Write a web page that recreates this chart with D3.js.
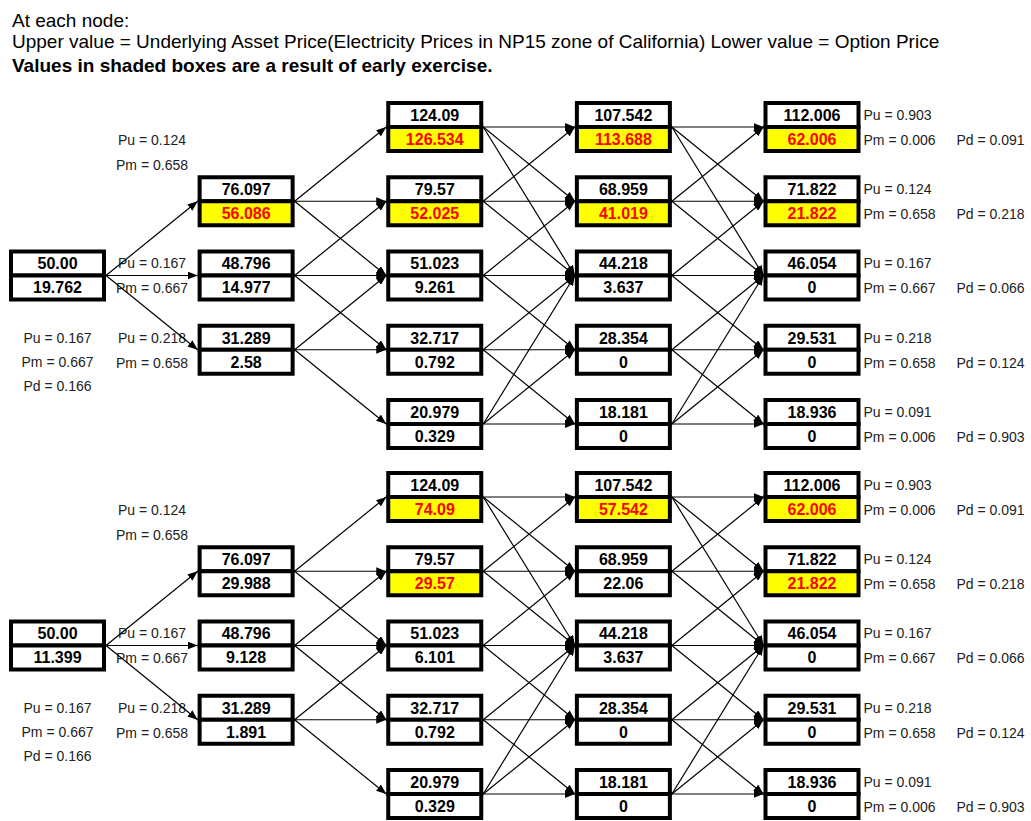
<!DOCTYPE html>
<html>
<head>
<meta charset="utf-8">
<script src="https://cdn.jsdelivr.net/npm/d3@7"></script>
<style>
  body { margin: 0; background: #fff; }
  svg text { font-family: "Liberation Sans", Arial, sans-serif; }
</style>
</head>
<body>
<div id="treeDiv"></div>
<script>
// header text
const headerLines = [
    'At each node:',
    'Upper value = Underlying Asset Price(Electricity Prices in NP15 zone of California) Lower value = Option Price',
    'Values in shaded boxes are a result of early exercise.'
];

// which rows of the lattice exist in each time step
const nodeRows = [[2], [1, 2, 3], [0, 1, 2, 3, 4], [0, 1, 2, 3, 4], [0, 1, 2, 3, 4]];

// underlying prices (same in both trees)
const assetPrices = [
    ['50.00'],
    ['76.097', '48.796', '31.289'],
    ['124.09', '79.57', '51.023', '32.717', '20.979'],
    ['107.542', '68.959', '44.218', '28.354', '18.181'],
    ['112.006', '71.822', '46.054', '29.531', '18.936']
];

// option prices, upper tree
const topOptionPrices = [
    ['19.762'],
    ['56.086', '14.977', '2.58'],
    ['126.534', '52.025', '9.261', '0.792', '0.329'],
    ['113.688', '41.019', '3.637', '0', '0'],
    ['62.006', '21.822', '0', '0', '0']
];
const topShaded = [
    [false],
    [true, false, false],
    [true, true, false, false, false],
    [true, true, false, false, false],
    [true, true, false, false, false]
];

// option prices, lower tree
const bottomOptionPrices = [
    ['11.399'],
    ['29.988', '9.128', '1.891'],
    ['74.09', '29.57', '6.101', '0.792', '0.329'],
    ['57.542', '22.06', '3.637', '0', '0'],
    ['62.006', '21.822', '0', '0', '0']
];
const bottomShaded = [
    [false],
    [false, false, false],
    [true, true, false, false, false],
    [true, false, false, false, false],
    [true, true, false, false, false]
];

// branching probabilities
const rootPu = 0.167, rootPm = 0.667, rootPd = 0.166;
const stepOnePu = [0.124, 0.167, 0.218];
const stepOnePm = [0.658, 0.667, 0.658];
const lastPu = [0.903, 0.124, 0.167, 0.218, 0.091];
const lastPm = [0.006, 0.658, 0.667, 0.658, 0.006];
const lastPd = [0.091, 0.218, 0.066, 0.124, 0.903];

const width = 1031, height = 821;
const boxW = 93, halfH = 24, boxStroke = 4;
const fmt = d3.format('.3f');

const svg = d3.select('#treeDiv')
    .append('svg')
    .attr('width', width)
    .attr('height', height);

svg.append('defs').append('marker')
    .attr('id', 'arrow')
    .attr('viewBox', '0 0 10 8')
    .attr('refX', 10)
    .attr('refY', 4)
    .attr('markerWidth', 10)
    .attr('markerHeight', 8)
    .attr('markerUnits', 'userSpaceOnUse')
    .attr('orient', 'auto')
    .append('path')
    .attr('d', 'M0,0L10,4L0,8Z')
    .attr('fill', '#000');

// header
svg.selectAll('text.header')
    .data(headerLines)
    .enter().append('text')
    .classed('header', true)
    .attr('x', 12)
    .attr('y', (d, i) => [27, 48, 72][i])
    .attr('font-size', 19)
    .attr('font-weight', (d, i) => i === 2 ? 'bold' : 'normal')
    .attr('fill', '#000')
    .text(d => d);

// scales
const xScale = d3.scaleLinear().domain([0, 4]).range([57.5, 812]);
const yScale = d3.scaleLinear().domain([0, 4]).range([127, 424]);
const treeScale = d3.scaleLinear().domain([0, 1]).range([0, 370]);

function children(col, row) {
    if (col < 2) return [row - 1, row, row + 1];
    if (row === 0) return [0, 1, 2];
    if (row === 4) return [2, 3, 4];
    return [row - 1, row, row + 1];
}

function drawTree(treeIdx, optionPrices, shaded) {
    let g = svg.append('g')
        .attr('transform', `translate(0, ${treeScale(treeIdx)})`);

    // probability labels
    let labels = [];
    labels.push({ x: xScale(0), y: yScale(2) + 63, t: 'Pu = ' + fmt(rootPu), a: 'middle' });
    labels.push({ x: xScale(0), y: yScale(2) + 87, t: 'Pm = ' + fmt(rootPm), a: 'middle' });
    labels.push({ x: xScale(0), y: yScale(2) + 111, t: 'Pd = ' + fmt(rootPd), a: 'middle' });
    nodeRows[1].forEach((r, i) => {
        let off = i === 0 ? -49 : 0;
        labels.push({ x: 152, y: yScale(r) - 12 + off, t: 'Pu = ' + fmt(stepOnePu[i]), a: 'middle' });
        labels.push({ x: 152, y: yScale(r) + 13 + off, t: 'Pm = ' + fmt(stepOnePm[i]), a: 'middle' });
    });
    nodeRows[4].forEach((r, i) => {
        let lx = xScale(4) + boxW / 2 + 5;
        labels.push({ x: lx, y: yScale(r) - 12, t: 'Pu = ' + fmt(lastPu[i]), a: 'start' });
        labels.push({ x: lx, y: yScale(r) + 13, t: 'Pm = ' + fmt(lastPm[i]), a: 'start' });
        labels.push({ x: lx + 93, y: yScale(r) + 13, t: 'Pd = ' + fmt(lastPd[i]), a: 'start' });
    });
    g.selectAll('text.prob')
        .data(labels)
        .enter().append('text')
        .classed('prob', true)
        .attr('x', d => d.x)
        .attr('y', d => d.y)
        .attr('dy', '0.35em')
        .attr('text-anchor', d => d.a)
        .attr('font-size', 14)
        .attr('fill', '#222')
        .text(d => d.t);

    // edges
    let edges = [];
    for (let c = 0; c < 4; c++) {
        nodeRows[c].forEach(r => {
            children(c, r).forEach(r2 => {
                edges.push({ c: c, r: r, r2: r2 });
            });
        });
    }
    g.selectAll('line.edge')
        .data(edges)
        .enter().append('line')
        .classed('edge', true)
        .attr('x1', d => xScale(d.c) + boxW / 2 + boxStroke / 2)
        .attr('y1', d => yScale(d.r))
        .attr('x2', d => xScale(d.c + 1) - boxW / 2 - boxStroke / 2)
        .attr('y2', d => yScale(d.r2))
        .attr('stroke', '#000')
        .attr('stroke-width', 1.2)
        .attr('marker-end', 'url(#arrow)');

    // nodes
    let nodes = [];
    nodeRows.forEach((rows, c) => {
        rows.forEach((r, i) => {
            nodes.push({ c: c, r: r, price: assetPrices[c][i], option: optionPrices[c][i], shaded: shaded[c][i] });
        });
    });
    let nodeGroups = g.selectAll('g.node')
        .data(nodes)
        .enter().append('g')
        .classed('node', true)
        .attr('transform', d => `translate(${xScale(d.c)}, ${yScale(d.r)})`);

    nodeGroups.append('rect')
        .attr('x', -boxW / 2)
        .attr('y', -halfH)
        .attr('width', boxW)
        .attr('height', halfH)
        .attr('fill', '#fff')
        .attr('stroke', '#000')
        .attr('stroke-width', boxStroke);
    nodeGroups.append('rect')
        .attr('x', -boxW / 2)
        .attr('y', 0)
        .attr('width', boxW)
        .attr('height', halfH)
        .attr('fill', d => d.shaded ? '#ffff00' : '#fff')
        .attr('stroke', '#000')
        .attr('stroke-width', boxStroke);

    nodeGroups.append('text')
        .attr('y', -halfH / 2)
        .attr('dy', '0.36em')
        .attr('text-anchor', 'middle')
        .attr('font-size', 16)
        .attr('font-weight', 'bold')
        .attr('fill', '#000')
        .text(d => d.price);
    nodeGroups.append('text')
        .attr('y', halfH / 2)
        .attr('dy', '0.36em')
        .attr('text-anchor', 'middle')
        .attr('font-size', 16)
        .attr('font-weight', 'bold')
        .attr('fill', d => d.shaded ? '#ff0000' : '#000')
        .text(d => d.option);
}

drawTree(0, topOptionPrices, topShaded);
drawTree(1, bottomOptionPrices, bottomShaded);
</script>
</body>
</html>
